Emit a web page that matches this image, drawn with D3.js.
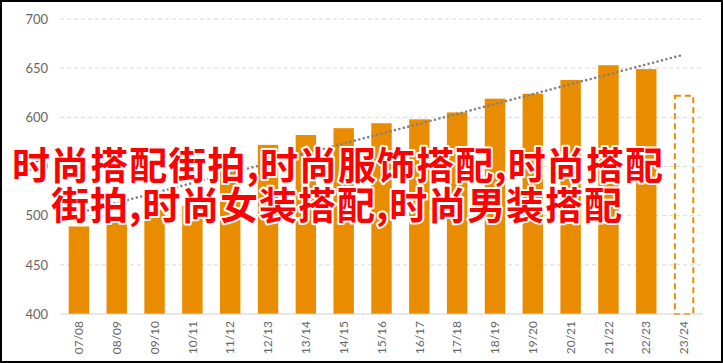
<!DOCTYPE html>
<html>
<head>
<meta charset="utf-8">
<script src="https://cdn.jsdelivr.net/npm/d3@7"></script>
<style>
  body { margin: 0; background: #fff; }
  svg { display: block; }
</style>
</head>
<body>
<div id="chart"></div>
<script>
// data
var seasons = ["07/08","08/09","09/10","10/11","11/12","12/13","13/14","14/15","15/16","16/17","17/18","18/19","19/20","20/21","21/22","22/23","23/24"]
var values = [489, 500, 506, 510, 545, 572, 582, 589, 594, 598, 605, 619, 624, 638, 653, 649, 622]
var forecast = [false,false,false,false,false,false,false,false,false,false,false,false,false,false,false,false,true]
var trendEnds = [503, 663]   // dotted trend line, first and last season
var yTicks = [400, 450, 500, 550, 600, 650, 700]
var titleLines = ["时尚搭配街拍,时尚服饰搭配,时尚搭配", "街拍,时尚女装搭配,时尚男装搭配"]

var W = 723, H = 363
var margin = {top: 19, right: 20, bottom: 49, left: 60}
var orange = "#EA8C00"

var svg = d3.select("#chart").append("svg").attr("width", W).attr("height", H)

var x = d3.scaleBand().domain(seasons)
  .range([margin.left, W - margin.right])
  .paddingInner(0.46).paddingOuter(0.23)
var y = d3.scaleLinear().domain([400, 700]).range([H - margin.bottom, margin.top])

// grid
svg.append("g").selectAll("line").data(yTicks.slice(1)).join("line")
  .attr("x1", margin.left).attr("x2", W - margin.right)
  .attr("y1", function(d){ return y(d) }).attr("y2", function(d){ return y(d) })
  .attr("stroke", "#d9d9d9").attr("stroke-width", 1).attr("stroke-dasharray", "4,3")

// y axis labels
var yAxis = svg.append("g").attr("transform", "translate(" + (margin.left - 12) + ",0)")
  .call(d3.axisLeft(y).tickValues(yTicks).tickSize(0).tickPadding(0))
yAxis.select(".domain").remove()
yAxis.selectAll("text").style("font-family", "Lato, 'Open Sans', sans-serif")
  .style("font-size", "13px").attr("fill", "#666")

// bars
svg.append("g").selectAll("rect").data(values).join("rect")
  .attr("x", function(d, i){ return x(seasons[i]) + (forecast[i] ? 1 : 0) })
  .attr("y", function(d){ return y(d) })
  .attr("width", function(d, i){ return x.bandwidth() - (forecast[i] ? 2 : 0) })
  .attr("height", function(d){ return y(400) - y(d) })
  .attr("fill", function(d, i){ return forecast[i] ? "none" : orange })
  .attr("stroke", function(d, i){ return forecast[i] ? orange : "none" })
  .attr("stroke-width", 2)
  .attr("stroke-dasharray", function(d, i){ return forecast[i] ? "6,4" : null })

// baseline
svg.append("line")
  .attr("x1", margin.left).attr("x2", W - margin.right)
  .attr("y1", y(400)).attr("y2", y(400))
  .attr("stroke", "#d0d0d0").attr("stroke-width", 1)

// x axis labels
var xAxis = svg.append("g").attr("transform", "translate(0," + (y(400) + 7) + ")")
  .call(d3.axisBottom(x).tickSize(0).tickPadding(0))
xAxis.select(".domain").remove()
xAxis.selectAll("text")
  .attr("transform", "rotate(-90)")
  .attr("x", 0).attr("y", 0).attr("dy", "0.35em")
  .style("text-anchor", "end")
  .style("font-family", "Lato, 'Open Sans', sans-serif")
  .style("font-size", "12px").attr("fill", "#666")

// trend line
var first = seasons[0], last = seasons[seasons.length - 1]
svg.append("line")
  .attr("x1", x(first) + x.bandwidth() / 2).attr("y1", y(trendEnds[0]))
  .attr("x2", x(last) + x.bandwidth() / 2 - 3).attr("y2", y(trendEnds[1]))
  .attr("stroke", "#808080").attr("stroke-width", 2.6)
  .attr("stroke-linecap", "round").attr("stroke-dasharray", "0,4.6")

// overlay title
svg.append("g").selectAll("text").data(titleLines).join("text")
  .attr("x", function(d, i){ return i == 0 ? 12 : 51 })
  .attr("y", function(d, i){ return i == 0 ? 179 : 219 })
  .attr("textLength", function(d, i){ return i == 0 ? 651 : 571 })
  .attr("lengthAdjust", "spacing")
  .style("font-family", "'Noto Sans CJK SC', sans-serif")
  .style("font-weight", "bold").style("font-size", "38px")
  .attr("fill", "#ff0000")
  .attr("stroke", "#fff").attr("stroke-width", 4)
  .attr("stroke-linejoin", "round").attr("paint-order", "stroke")
  .text(function(d){ return d })

// frame
svg.append("rect").attr("x", 1).attr("y", 1).attr("width", W - 2).attr("height", H - 2)
  .attr("fill", "none").attr("stroke", "#000").attr("stroke-width", 2)
</script>
</body>
</html>
